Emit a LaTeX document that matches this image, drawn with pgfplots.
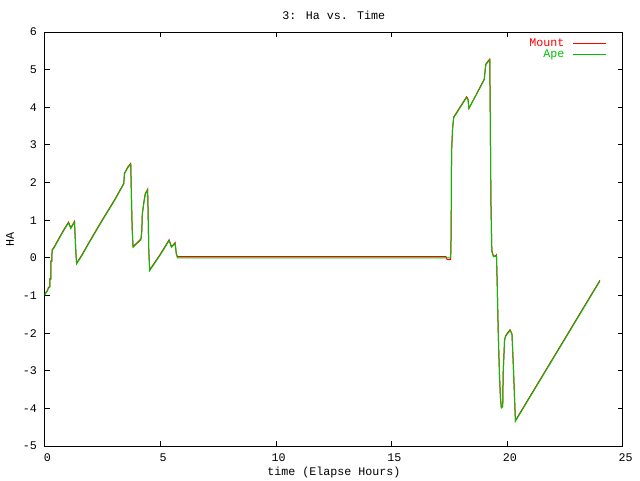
\documentclass[border=0pt]{standalone}
\usepackage{pgfplots}
\pgfplotsset{compat=1.18}
\usepackage{pgfplotstable}
\usepackage{fontspec}
\setmainfont{Liberation Mono}
\definecolor{gpred}{RGB}{255,0,0}
\definecolor{gpgreen}{RGB}{0,192,0}
\pgfplotstableread{
x y
0.00 -1.00
0.02 -0.97
0.12 -0.88
0.16 -0.81
0.22 -0.78
0.23 -0.57
0.27 -0.57
0.27 -0.10
0.31 -0.10
0.32 0.19
0.40 0.26
0.60 0.48
0.80 0.70
1.03 0.93
1.13 0.78
1.29 0.95
1.31 0.66
1.35 0.13
1.38 -0.16
1.60 0.05
2.00 0.48
2.50 1.00
3.00 1.50
3.42 1.96
3.45 2.23
3.60 2.40
3.72 2.49
3.74 1.93
3.78 0.82
3.82 0.28
4.16 0.48
4.20 0.70
4.22 1.15
4.29 1.47
4.35 1.69
4.45 1.80
4.47 1.27
4.50 0.21
4.54 -0.34
5.00 0.08
5.38 0.46
5.48 0.28
5.64 0.38
5.69 0.11
5.74 0.00
17.55 0.00
17.57 0.60
17.59 2.81
17.63 3.39
17.68 3.72
18.24 4.26
18.30 4.20
18.34 3.97
18.85 4.55
19.00 4.73
19.07 5.13
19.24 5.26
19.26 4.01
19.29 1.51
19.33 0.17
19.40 0.03
19.49 0.03
19.53 0.06
19.56 -0.63
19.61 -2.06
19.66 -3.09
19.70 -3.69
19.74 -3.99
19.80 -3.96
19.82 -3.07
19.88 -2.20
19.92 -2.10
20.00 -2.02
20.12 -1.93
20.20 -2.02
20.26 -2.87
20.32 -3.85
20.35 -4.34
24.00 -0.62
}\apetable
\pgfplotstableread{
x y
0.00 -0.98
0.02 -0.95
0.12 -0.86
0.16 -0.79
0.22 -0.76
0.23 -0.55
0.27 -0.55
0.27 -0.08
0.31 -0.08
0.32 0.21
0.40 0.28
0.60 0.50
0.80 0.72
1.03 0.95
1.13 0.80
1.29 0.97
1.31 0.66
1.35 0.13
1.38 -0.14
1.60 0.07
2.00 0.50
2.50 1.02
3.00 1.52
3.42 1.98
3.45 2.25
3.60 2.42
3.72 2.51
3.74 1.93
3.78 0.82
3.82 0.30
4.16 0.50
4.20 0.72
4.22 1.17
4.29 1.49
4.35 1.71
4.45 1.82
4.47 1.27
4.50 0.21
4.54 -0.32
5.00 0.10
5.38 0.48
5.48 0.30
5.64 0.40
5.69 0.11
5.74 0.03
17.35 0.03
17.40 -0.05
17.55 -0.05
17.57 0.62
17.59 2.83
17.63 3.41
17.68 3.74
18.24 4.28
18.30 4.22
18.34 3.97
18.85 4.57
19.00 4.75
19.07 5.15
19.24 5.28
19.26 4.01
19.29 1.51
19.33 0.19
19.40 0.05
19.49 0.05
19.53 0.08
19.56 -0.63
19.61 -2.06
19.66 -3.09
19.70 -3.69
19.74 -3.97
19.80 -3.94
19.82 -3.07
19.88 -2.18
19.92 -2.08
20.00 -2.00
20.12 -1.91
20.20 -2.02
20.26 -2.87
20.32 -3.85
20.35 -4.32
24.00 -0.60
}\mounttable
\begin{document}
\begin{tikzpicture}
\path[use as bounding box] (-33.5pt,-25.5pt) rectangle (446.45pt,334.5pt);
\begin{axis}[
  at={(0,0)}, anchor=south west,
  scale only axis,
  width=433.7pt, height=310.5pt,
  xmin=0, xmax=25, ymin=-5, ymax=6,
  xtick={0,5,10,15,20,25},
  ytick={-5,-4,-3,-2,-1,0,1,2,3,4,5,6},
  tick align=inside,
  major tick length=4pt,
  axis line style={line width=0.75pt},
  every tick/.style={black, line width=0.75pt},
  font=\fontsize{8.75}{10}\selectfont,
  /pgf/number format/assume math mode=true,
  yticklabel style={xshift=-2.3pt},
  xticklabel style={yshift=-2.5pt, xshift=2pt},
  legend style={draw=none, fill=none, at={(1,1)}, anchor=north east, xshift=-9pt, yshift=-1pt, font=\fontsize{8.75}{8.2}\selectfont, row sep=-3pt,
    /tikz/every odd column/.append style={column sep=4pt}},
  legend cell align=right,
  legend plot pos=right,
  legend image code/.code={\draw[#1, line width=0.75pt] (0pt,0pt) -- (25pt,0pt);},
  clip mode=individual,
]
\addplot[gpred, line width=0.75pt] table[x=x,y=y] {\mounttable};
\addlegendentry{\textcolor{gpred}{Mount}}
\addplot[gpgreen, line width=0.75pt] table[x=x,y=y] {\apetable};
\addlegendentry{\textcolor{gpgreen}{Ape}}
\node[font=\fontsize{8.75}{10}\selectfont] at (rel axis cs:0.5,1) [yshift=12.75pt] {3: Ha vs. Time};
\node[font=\fontsize{8.75}{10}\selectfont] at (rel axis cs:0.5,0) [yshift=-19.5pt] {time (Elapse Hours)};
\node[font=\fontsize{8.75}{10}\selectfont, xshift=-26pt, rotate=90] at (rel axis cs:0,0.5) {HA};
\end{axis}
\end{tikzpicture}
\end{document}
